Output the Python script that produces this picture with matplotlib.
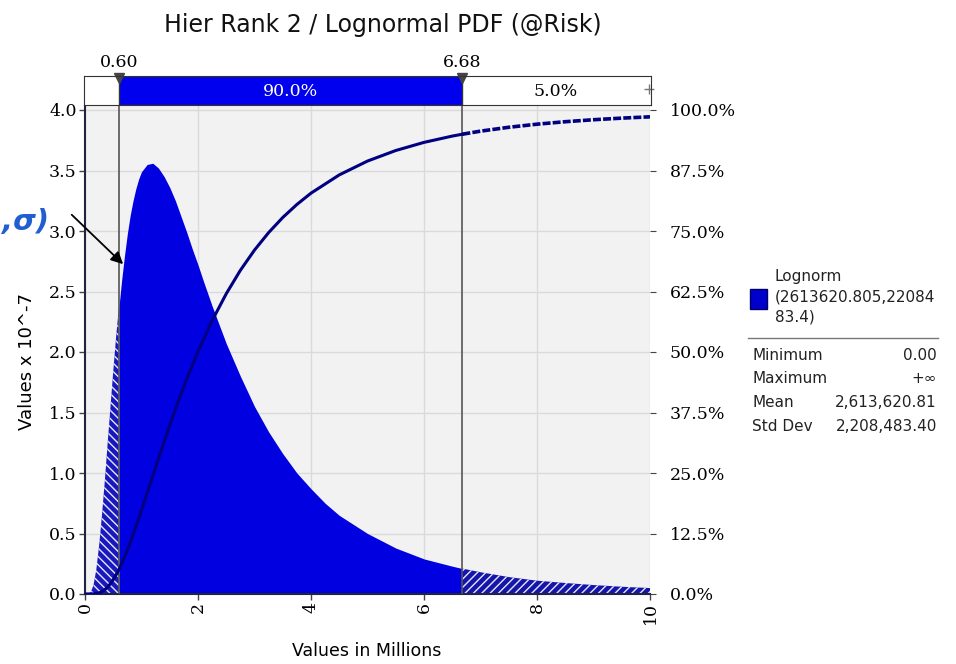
import numpy as np
import matplotlib.pyplot as plt
from matplotlib.patches import Rectangle

# Lognormal density, x in millions, y in units of 1e-7
x_vals = [0.0, 0.05, 0.1, 0.15, 0.2, 0.25, 0.3, 0.35, 0.4, 0.45, 0.5, 0.55, 0.6, 0.65, 0.7,
          0.75, 0.8, 0.85, 0.9, 0.95, 1.0, 1.1, 1.2, 1.3, 1.4, 1.5, 1.6, 1.7, 1.8, 1.9, 2.0,
          2.1, 2.25, 2.5, 2.75, 3.0, 3.25, 3.5, 3.75, 4.0, 4.25, 4.5, 5.0, 5.5, 6.0, 6.5,
          6.68, 7.0, 7.5, 8.0, 8.5, 9.0, 9.5, 10.0]
pdf_vals = [0.0, 0.0004, 0.013, 0.072, 0.20, 0.40, 0.65, 0.93, 1.24, 1.54, 1.84, 2.12, 2.37, 2.60, 2.80,
            2.98, 3.13, 3.25, 3.35, 3.43, 3.49, 3.55, 3.56, 3.52, 3.45, 3.36, 3.25, 3.12, 2.99, 2.85, 2.72,
            2.58, 2.38, 2.07, 1.80, 1.55, 1.34, 1.16, 1.00, 0.87, 0.75, 0.65, 0.50, 0.38, 0.29, 0.23,
            0.21, 0.18, 0.14, 0.11, 0.091, 0.074, 0.060, 0.049]

# cumulative curve (percent)
cdf_x = [0.0, 0.15, 0.2, 0.25, 0.3, 0.35, 0.4, 0.45, 0.5, 0.55, 0.6, 0.65, 0.7, 0.75, 0.8, 0.85,
         0.9, 0.95, 1.0, 1.1, 1.2, 1.3, 1.4, 1.5, 1.6, 1.75, 1.8, 2.0, 2.25, 2.5, 2.75, 3.0, 3.25,
         3.5, 3.75, 4.0, 4.5, 5.0, 5.5, 6.0, 6.5, 6.68, 7.0, 7.5, 8.0, 8.5, 9.0, 9.5, 10.0]
cdf_pct = [0.0, 0.02, 0.09, 0.23, 0.49, 0.89, 1.43, 2.12, 2.97, 3.96, 5.0, 6.32, 7.67, 9.12, 10.65,
           12.24, 13.89, 15.59, 17.32, 20.85, 24.41, 27.96, 31.45, 34.86, 38.16, 42.89, 44.40, 50.1,
           56.48, 62.04, 66.88, 71.06, 74.67, 77.79, 80.48, 82.82, 86.59, 89.45, 91.63, 93.31, 94.61,
           95.0, 95.63, 96.43, 97.07, 97.58, 97.99, 98.32, 98.59]

lo_cut, hi_cut = 0.60, 6.68
band_labels = ['90.0%', '5.0%']
stat_names = ['Minimum', 'Maximum', 'Mean', 'Std Dev']
stat_values = ['0.00', '+\u221e', '2,613,620.81', '2,208,483.40']
legend_lines = ['Lognorm', '(2613620.805,22084', '83.4)']

W, H = 956, 664
fig = plt.figure(figsize=(W / 100, H / 100), dpi=100)

def fx(px):
    return px / W

def fy(py):
    return 1 - py / H

serif = 'DejaVu Serif'
blue = '#0000E0'
navy = '#000080'

ax = fig.add_axes([fx(85), fy(594), fx(650) - fx(85), fy(106) - fy(594)])
ax.set_facecolor('#F2F2F2')
ymax = 4.0 * (594 - 106) / (594 - 110)
ax.set_xlim(0, 10)
ax.set_ylim(0, ymax)

x = np.array(x_vals)
y = np.array(pdf_vals)
left = x <= lo_cut
mid = (x >= lo_cut) & (x <= hi_cut)
right = x >= hi_cut

plt.rcParams['hatch.linewidth'] = 1.0
ax.fill_between(x[mid], 0, y[mid], color=blue, lw=0, zorder=2)
ax.fill_between(x[left], 0, y[left], facecolor='#1818BC', edgecolor='#E4E6FF',
                hatch='\\\\\\\\', lw=0, zorder=2)
ax.fill_between(x[right], 0, y[right], facecolor='#1515A8', edgecolor='#E4E6FF',
                hatch='////', lw=0, zorder=2)

ax.set_yticks(np.arange(0, 4.01, 0.5))
ax.set_yticklabels([f'{v:.1f}' for v in np.arange(0, 4.01, 0.5)], fontfamily=serif, fontsize=12.5)
ax.set_xticks([0, 2, 4, 6, 8, 10])
ax.set_xticklabels(['0', '2', '4', '6', '8', '10'], rotation=90, fontfamily=serif, fontsize=12.5)
ax.tick_params(length=4, width=1, color='#444444', pad=2)
ax.grid(True, color='#DADADA', lw=1, zorder=0)
ax.set_axisbelow(True)
for side in ['top', 'right']:
    ax.spines[side].set_visible(False)
for side in ['left', 'bottom']:
    ax.spines[side].set_color('#222244')
    ax.spines[side].set_linewidth(1.5)

for v in (lo_cut, hi_cut):
    ax.axvline(v, color='#555555', lw=1.2, zorder=4)

# cumulative on the right-hand scale
ax2 = ax.twinx()
ax2.set_ylim(0, ymax * 25)
cx = np.array(cdf_x)
cy = np.array(cdf_pct)
inner = cx <= hi_cut
ax2.plot(cx[inner], cy[inner], color=navy, lw=2.2, zorder=5)
ax2.plot(cx[cx >= hi_cut], cy[cx >= hi_cut], color=navy, lw=2.6, ls=(0, (2.2, 0.6)), zorder=5)
pct_ticks = np.arange(0, 100.1, 12.5)
ax2.set_yticks(pct_ticks)
ax2.set_yticklabels([f'{v:.1f}%' for v in pct_ticks], fontfamily=serif, fontsize=12.5)
ax2.tick_params(axis='y', length=4, color='#444444', pad=10)
for side in ax2.spines:
    ax2.spines[side].set_visible(False)

ax.annotate('', xy=(0.71, 2.71), xytext=(-0.27, 3.15),
            arrowprops=dict(arrowstyle='-|>', color='black', lw=1.3, mutation_scale=18),
            annotation_clip=False, zorder=6)

# probability band above the plot
bar = fig.add_axes([fx(84), fy(105), fx(651) - fx(84), fy(76) - fy(105)])
bar.set_xlim(-0.018, 10.03)
bar.set_ylim(0, 1)
bar.add_patch(Rectangle((lo_cut, 0), hi_cut - lo_cut, 1, facecolor='#0000EE', edgecolor='#333333', lw=1))
bar.text((lo_cut + hi_cut) / 2, 0.45, band_labels[0], color='white', ha='center', va='center',
         fontfamily=serif, fontsize=12.5)
bar.text((hi_cut + 10) / 2, 0.45, band_labels[1], color='black', ha='center', va='center',
         fontfamily=serif, fontsize=12.5)
bar.set_xticks([])
bar.set_yticks([])
for side in bar.spines.values():
    side.set_color('#333333')
bar.plot([lo_cut, hi_cut], [0.93, 0.93], 'v', color='#444444', ms=7, clip_on=False)
bar.plot([10.0], [0.55], '+', color='#777777', ms=7, clip_on=False)
for v in (lo_cut, hi_cut):
    bar.text(v, 1.18, f'{v:.2f}', ha='center', va='bottom', fontfamily=serif, fontsize=12.5)

fig.text(fx(383), fy(25), 'Hier Rank 2 / Lognormal PDF (@Risk)', ha='center', va='center',
         fontsize=17, color='#111111')
fig.text(fx(367), fy(651), 'Values in Millions', ha='center', va='center', fontsize=12.5)
fig.text(fx(27), fy(362), 'Values x 10^-7', ha='center', va='center', rotation=90, fontsize=13)
fig.text(fx(2), fy(222), ',\u03c3)', ha='left', va='center', fontsize=21,
         fontweight='bold', style='italic', color='#1F5FD0')

# legend and statistics panel
fig.patches.append(Rectangle((fx(750), fy(309)), fx(17), fy(289) - fy(309), transform=fig.transFigure,
                             facecolor='#0000CC', edgecolor='#000066', lw=1))
for i, line in enumerate(legend_lines):
    fig.text(fx(775), fy(276 + 20.5 * i), line, ha='left', va='center', fontsize=11, color='#222222')
fig.add_artist(plt.Line2D([fx(748), fx(938)], [fy(338), fy(338)], color='#777777', lw=1))
for i, (name, val) in enumerate(zip(stat_names, stat_values)):
    yy = fy(355 + 23.7 * i)
    fig.text(fx(752), yy, name, ha='left', va='center', fontsize=11, color='#222222')
    fig.text(fx(937), yy, val, ha='right', va='center', fontsize=11, color='#222222')

fig.savefig('out.png', dpi=100)
